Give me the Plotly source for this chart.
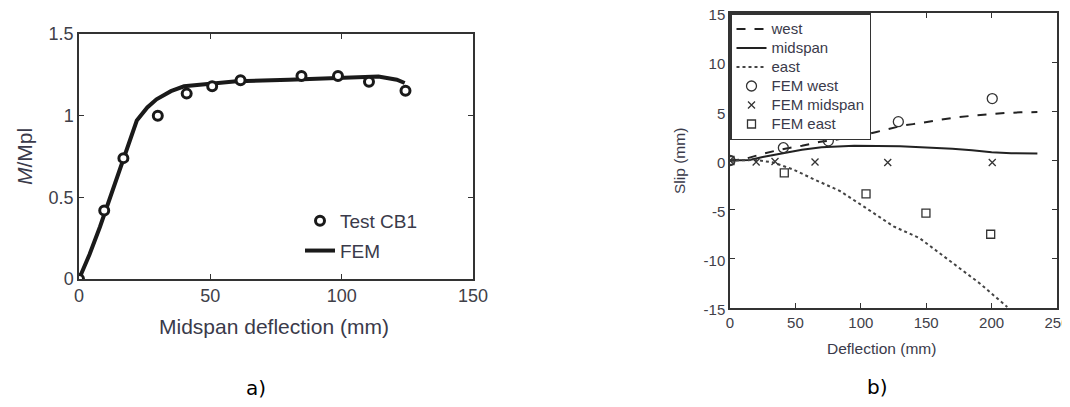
import plotly.graph_objects as go

# ---- panel a) data ----
test_x = [0, 9.6, 16.9, 30, 41, 50.7, 61.5, 84.7, 98.6, 110.4, 124.3]
test_y = [0, 0.42, 0.74, 1.0, 1.135, 1.18, 1.217, 1.243, 1.243, 1.208, 1.153]
fem_x = [0, 4, 8, 11, 14.3, 18, 22, 26, 29.5, 35, 40, 50, 60, 80, 100, 114, 121, 124]
fem_y = [0, 0.15, 0.32, 0.46, 0.626, 0.8, 0.97, 1.05, 1.10, 1.15, 1.18, 1.195, 1.21, 1.22, 1.23, 1.24, 1.22, 1.2]
a_xticks = [0, 50, 100, 150]
a_yticks = [0, 0.5, 1, 1.5]
a_yticktext = ["0", "0.5", "1", "1.5"]

# ---- panel b) data ----
west_x = [0, 10, 23, 38, 55, 69, 85, 99, 112, 125, 132, 140, 155, 171, 185, 196, 210, 222, 235]
west_y = [0, 0.1, 0.6, 1.1, 1.5, 1.9, 2.2, 2.5, 2.9, 3.35, 3.55, 3.7, 4.0, 4.35, 4.55, 4.7, 4.82, 4.9, 4.93]
mid_x = [0, 15, 25, 40, 55, 70, 95, 130, 150, 170, 185, 200, 215, 235]
mid_y = [0, 0.05, 0.35, 0.75, 1.1, 1.35, 1.5, 1.45, 1.35, 1.2, 1.05, 0.85, 0.75, 0.7]
east_x = [0, 20, 33, 48, 64, 84, 102, 125, 145, 171, 191, 212]
east_y = [0, 0.05, -0.2, -0.9, -1.9, -3.1, -4.66, -6.7, -7.9, -10.45, -12.5, -14.9]
femw_x = [0, 40.8, 75.2, 128.7, 200.5]
femw_y = [0, 1.3, 2.0, 3.95, 6.3]
femm_x = [0, 20, 34.4, 65, 120.6, 200.5]
femm_y = [0, -0.15, -0.1, -0.15, -0.2, -0.2]
feme_x = [0, 41.5, 104, 149.8, 199.3]
feme_y = [0, -1.25, -3.4, -5.35, -7.5]
b_xticks = [0, 50, 100, 150, 200, 250]
b_yticks = [-15, -10, -5, 0, 5, 10, 15]
b_yticktext = ["-15", "-10", "-5", "0", "5", "10", "15"]

# page body has an 8px margin: the figure is sized so the page does not overflow the window
OFF = 8
W, H = 1070 - OFF, 407 - 2 * OFF
FONT = "Liberation Sans, Arial, sans-serif"
AX = "#333333"
TICKC = "#404048"
TXT = "#3a3a4a"


def px(X):
    return (X - OFF) / W


def py(Y):
    return 1 - (Y - OFF) / H


def lname(s):
    # legend text drawn at 15px while the row spacing follows the smaller legend font
    return '<span style="font-size:15px">' + s + '</span>'


fig = go.Figure()

# panel a
fig.add_trace(go.Scatter(x=fem_x, y=fem_y, mode="lines", name="FEM",
                         line=dict(color="#1a1a1a", width=4),
                         xaxis="x", yaxis="y", legend="legend", legendgroup="b",
                         legendrank=2))
fig.add_trace(go.Scatter(x=test_x, y=test_y, mode="markers", name="Test CB1",
                         marker=dict(symbol="circle", size=9, color="white",
                                     line=dict(color="#1a1a1a", width=3)),
                         xaxis="x", yaxis="y", legend="legend", legendgroup="a",
                         legendrank=1))

# panel b
fig.add_trace(go.Scatter(x=west_x, y=west_y, mode="lines", name=lname("west"),
                         line=dict(color="#222222", width=2, dash="dash"),
                         xaxis="x2", yaxis="y2", legend="legend2"))
fig.add_trace(go.Scatter(x=mid_x, y=mid_y, mode="lines", name=lname("midspan"),
                         line=dict(color="#222222", width=2),
                         xaxis="x2", yaxis="y2", legend="legend2"))
fig.add_trace(go.Scatter(x=east_x, y=east_y, mode="lines", name=lname("east"),
                         line=dict(color="#444444", width=2, dash="dot"),
                         xaxis="x2", yaxis="y2", legend="legend2"))
fig.add_trace(go.Scatter(x=femw_x, y=femw_y, mode="markers", name=lname("FEM west"),
                         marker=dict(symbol="circle-open", size=10, color="#333333",
                                     line=dict(width=1.3)),
                         xaxis="x2", yaxis="y2", legend="legend2"))
fig.add_trace(go.Scatter(x=femm_x, y=femm_y, mode="markers", name=lname("FEM midspan"),
                         marker=dict(symbol="x-thin-open", size=7, color="#333333",
                                     line=dict(width=1.3, color="#333333")),
                         xaxis="x2", yaxis="y2", legend="legend2"))
fig.add_trace(go.Scatter(x=feme_x, y=feme_y, mode="markers", name=lname("FEM east"),
                         marker=dict(symbol="square-open", size=8, color="#333333",
                                     line=dict(width=1.3)),
                         xaxis="x2", yaxis="y2", legend="legend2"))

axis_common = dict(showgrid=False, zeroline=False, showline=True, linecolor=AX,
                   linewidth=1.5, mirror="ticks", ticks="inside", ticklen=5,
                   tickcolor=AX, tickwidth=1.2, automargin=False,
                   ticklabeloverflow="allow")


def ann(text, x, y, size, angle=0, color=TXT, family=FONT):
    return dict(text=text, x=px(x), y=py(y), xref="paper", yref="paper",
                xanchor="center", yanchor="middle", showarrow=False,
                textangle=angle, font=dict(size=size, color=color, family=family))


fig.update_layout(
    width=W, height=H,
    margin=dict(l=0, r=0, t=0, b=0, autoexpand=False),
    paper_bgcolor="white", plot_bgcolor="white",
    font=dict(family=FONT, color=TICKC),
    xaxis=dict(domain=[px(79), px(473)], range=[0, 150], tickvals=a_xticks,
               tickfont=dict(size=18), anchor="y", **axis_common),
    yaxis=dict(domain=[py(279), py(34)], range=[0, 1.5], tickvals=a_yticks,
               ticktext=a_yticktext, tickfont=dict(size=18), anchor="x", **axis_common),
    xaxis2=dict(domain=[px(730), px(1057)], range=[0, 250], tickvals=b_xticks,
                tickfont=dict(size=15), anchor="y2", **axis_common),
    yaxis2=dict(domain=[py(308), py(13)], range=[-15, 15], tickvals=b_yticks,
                ticktext=b_yticktext, tickfont=dict(size=15), anchor="x2",
                ticklabelshift=2, **axis_common),
    legend=dict(x=px(300), y=py(202), xanchor="left", yanchor="top",
                bgcolor="rgba(0,0,0,0)", borderwidth=0, itemwidth=30,
                font=dict(size=19, color=TXT), traceorder="grouped",
                tracegroupgap=2),
    legend2=dict(x=px(730), y=py(13), xanchor="left", yanchor="top",
                 bgcolor="white", bordercolor=AX, borderwidth=1.5, itemwidth=30,
                 font=dict(size=11.8, color=TXT), tracegroupgap=0),
    annotations=[
        ann("Midspan deflection (mm)", 274, 326, 21),
        ann("<i>M</i>/Mpl", 24, 157, 21, angle=-90),
        ann("Deflection (mm)", 881, 348, 15.5),
        ann("Slip (mm)", 680, 161, 15.5, angle=-90),
        ann("a)", 256, 388, 20, color="black", family="DejaVu Sans"),
        ann("b)", 877, 387, 20, color="black", family="DejaVu Sans"),
    ],
)

fig.write_html("out.html")
